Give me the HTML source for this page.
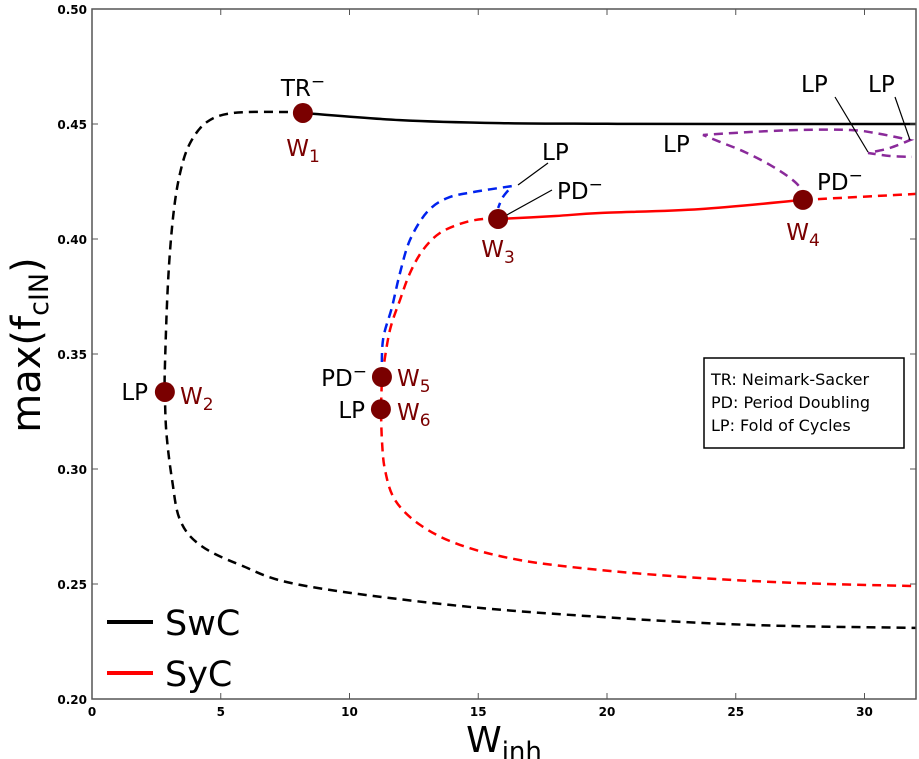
<!DOCTYPE html>
<html><head><meta charset="utf-8"><style>
html,body{margin:0;padding:0;background:#fff;}
svg{display:block;font-family:"DejaVu Sans","Liberation Sans",sans-serif;}
</style></head><body>
<svg id="chart" width="919" height="759" viewBox="0 0 919 759">
<g id="marks"></g>
<g id="axes"></g>
<g id="labels"></g>
</svg>
<script>
const xTicks=[0,5,10,15,20,25,30];
const yTicks=[0.20,0.25,0.30,0.35,0.40,0.45,0.50];
const yTickLabels=["0.20","0.25","0.30","0.35","0.40","0.45","0.50"];
const swcSolidX=[8.19,11.96,15.84,20,25,32];
const swcSolidY=[0.4548,0.4517,0.4504,0.4501,0.4500,0.4500];
const swcDashX=[8.19,7.42,5.48,4.47,3.81,3.42,3.15,2.95,2.83,2.83,2.89,3.11,3.42,4.19,5.75,8.08,13.90,19.73,25.55,32];
const swcDashY=[0.4548,0.4552,0.4548,0.4509,0.4417,0.4287,0.4096,0.3809,0.3443,0.3335,0.3157,0.2952,0.2778,0.2670,0.2583,0.2496,0.2409,0.2357,0.2322,0.2309];
const sycSolidX=[15.77,18,19.73,23.61,27.61];
const sycSolidY=[0.4087,0.4100,0.4113,0.4130,0.4170];
const sycDashRX=[27.61,32];
const sycDashRY=[0.4170,0.4196];
const sycDashX=[15.77,15.18,14.41,13.51,12.85,12.35,11.96,11.57,11.30,11.26,11.22,11.26,11.38,11.77,12.74,14.29,16.62,19.73,23.61,27.50,32];
const sycDashY=[0.4087,0.4087,0.4070,0.4026,0.3952,0.3852,0.3735,0.3604,0.3430,0.3400,0.3260,0.3126,0.2996,0.2865,0.2757,0.2670,0.2604,0.2561,0.2526,0.2504,0.2491];
const blueX=[11.26,11.30,11.65,11.96,12.35,13.01,13.79,14.80,16.31,15.96,15.77];
const blueY=[0.3400,0.3561,0.3704,0.3852,0.3996,0.4117,0.4178,0.4204,0.4230,0.4183,0.4135];
const purpleX=[27.61,27.50,27.11,26.33,25.36,24.39,23.73,25.55,27.50,29.44,30.60,31.77,30.99,30.14,30.99,31.84];
const purpleY=[0.4170,0.4222,0.4265,0.4322,0.4378,0.4422,0.4452,0.4465,0.4474,0.4474,0.4457,0.4430,0.4396,0.4374,0.4361,0.4357];
const pointNames=["w1","w2","w3","w4","w5","w6"];
const pointX=[8.19,2.83,15.77,27.61,11.26,11.22];
const pointY=[0.4548,0.3335,0.4087,0.4170,0.3400,0.3260];

const X0=92,X1=916,Y0=699,Y1=9;
function sx(v){return X0+v*(X1-X0)/32;}
function sy(v){return Y0-(v-0.2)*(Y0-Y1)/0.3;}
const NS="http://www.w3.org/2000/svg";
function mk(tag,attrs,parent){const e=document.createElementNS(NS,tag);for(const k in attrs)e.setAttribute(k,attrs[k]);parent.appendChild(e);return e;}
const marks=document.getElementById('marks'),axes=document.getElementById('axes');
function smoothSeg(P){
  let d='';
  for(let i=0;i<P.length-1;i++){
    const p0=P[Math.max(0,i-1)],p1=P[i],p2=P[i+1],p3=P[Math.min(P.length-1,i+2)];
    const c1=[p1[0]+(p2[0]-p0[0])/6,p1[1]+(p2[1]-p0[1])/6];
    const c2=[p2[0]-(p3[0]-p1[0])/6,p2[1]-(p3[1]-p1[1])/6];
    d+=' C'+c1[0].toFixed(1)+','+c1[1].toFixed(1)+' '+c2[0].toFixed(1)+','+c2[1].toFixed(1)+' '+p2[0].toFixed(1)+','+p2[1].toFixed(1);
  }
  return d;
}
function line(xs,ys,color,dash,name,breaks){
  const P=xs.map((v,i)=>[sx(v),sy(ys[i])]);
  const b=[0].concat(breaks||[],[P.length-1]);
  let d='M'+P[0][0].toFixed(1)+','+P[0][1].toFixed(1);
  for(let k=0;k<b.length-1;k++)d+=smoothSeg(P.slice(b[k],b[k+1]+1));
  const p=mk('path',{d:d,fill:'none',stroke:color,'stroke-width':2.5},marks);
  if(dash)p.setAttribute('stroke-dasharray','9,6');
  
  
}
line(swcDashX,swcDashY,'#000',true,'swc-unstable-branch');
line(swcSolidX,swcSolidY,'#000',false,'swc-stable-branch');
line(sycDashX,sycDashY,'#f00',true,'syc-unstable-branch',[9,10]);
line(sycDashRX,sycDashRY,'#f00',true,'syc-unstable-right');
line(sycSolidX,sycSolidY,'#f00',false,'syc-stable-branch');
line(blueX,blueY,'#0022ee',true,'pd-branch-blue',[8]);
line(purpleX,purpleY,'#8a2a9a',true,'pd-branch-purple',[6,11,13]);
[[518,185,548,163],[505,216,552,190],[835,97,868,152],[895,97,910,140]].forEach((a,i)=>{
  const l=mk('line',{x1:a[0],y1:a[1],x2:a[2],y2:a[3],stroke:'#000','stroke-width':1.2},marks);
  
  
});
pointX.forEach((v,i)=>{
  const c=mk('circle',{cx:sx(v),cy:sy(pointY[i]),r:10,fill:'#7a0000'},marks);
  
  
});
const fr=mk('rect',{x:X0,y:Y1,width:X1-X0,height:Y0-Y1,fill:'none',stroke:'#555','stroke-width':1.5},axes);


xTicks.forEach(t=>{
  const x=sx(t);
  mk('line',{x1:x,y1:Y0,x2:x,y2:Y0-6,stroke:'#555'},axes);
  mk('line',{x1:x,y1:Y1,x2:x,y2:Y1+6,stroke:'#555'},axes);
  const tx=mk('text',{x:x,y:Y0+17,'text-anchor':'middle','font-size':12,'font-weight':'bold'},axes);
  tx.textContent=t;
  
  
});
yTicks.forEach((t,i)=>{
  const y=sy(t);
  mk('line',{x1:X0,y1:y,x2:X0+6,y2:y,stroke:'#555'},axes);
  mk('line',{x1:X1,y1:y,x2:X1-6,y2:y,stroke:'#555'},axes);
  const tx=mk('text',{x:X0-5,y:y+5,'text-anchor':'end','font-size':12,'font-weight':'bold'},axes);
  tx.textContent=yTickLabels[i];
  
  
});
</script>
<svg width="919" height="759" style="position:absolute;left:0;top:0">
<g font-family="DejaVu Sans, Liberation Sans, sans-serif" font-size="23">
<text x="303" y="96" text-anchor="middle">TR<tspan dy="-9" font-size="17">−</tspan></text>
<text x="303" y="156" text-anchor="middle" fill="#7a0000">W<tspan dy="6" font-size="17">1</tspan></text>
<text x="148" y="400" text-anchor="end">LP</text>
<text x="180" y="404" fill="#7a0000">W<tspan dy="6" font-size="17">2</tspan></text>
<text x="367" y="386" text-anchor="end">PD<tspan dy="-9" font-size="17">−</tspan></text>
<text x="365" y="418" text-anchor="end">LP</text>
<text x="397" y="386" fill="#7a0000">W<tspan dy="6" font-size="17">5</tspan></text>
<text x="397" y="420" fill="#7a0000">W<tspan dy="6" font-size="17">6</tspan></text>
<text x="498" y="257" text-anchor="middle" fill="#7a0000">W<tspan dy="6" font-size="17">3</tspan></text>
<text x="803" y="240" text-anchor="middle" fill="#7a0000">W<tspan dy="6" font-size="17">4</tspan></text>
<text x="542" y="160">LP</text>
<text x="557" y="199">PD<tspan dy="-9" font-size="17">−</tspan></text>
<text x="817" y="190">PD<tspan dy="-9" font-size="17">−</tspan></text>
<text x="663" y="152">LP</text>
<text x="801" y="92">LP</text>
<text x="868" y="92">LP</text>
</g>
<g>
<rect x="704" y="358" width="200" height="90" fill="#fff" stroke="#000" stroke-width="1.5"/>
<text x="711" y="385" font-size="16">TR: Neimark-Sacker</text>
<text x="711" y="408" font-size="16">PD: Period Doubling</text>
<text x="711" y="431" font-size="16">LP: Fold of Cycles</text>
</g>
<g>
<line x1="107" y1="622" x2="153" y2="622" stroke="#000" stroke-width="4"/>
<text x="165" y="635" font-size="35">SwC</text>
<line x1="107" y1="673" x2="153" y2="673" stroke="#f00" stroke-width="4"/>
<text x="165" y="686" font-size="35">SyC</text>
</g>
<text x="504" y="752" text-anchor="middle" font-size="36">W<tspan dy="8" font-size="26">inh</tspan></text>
<text transform="translate(40,345) rotate(-90)" text-anchor="middle" font-size="40">max(f<tspan dy="8" font-size="27">cIN</tspan><tspan dy="-8">)</tspan></text>
</svg>
</body></html>
